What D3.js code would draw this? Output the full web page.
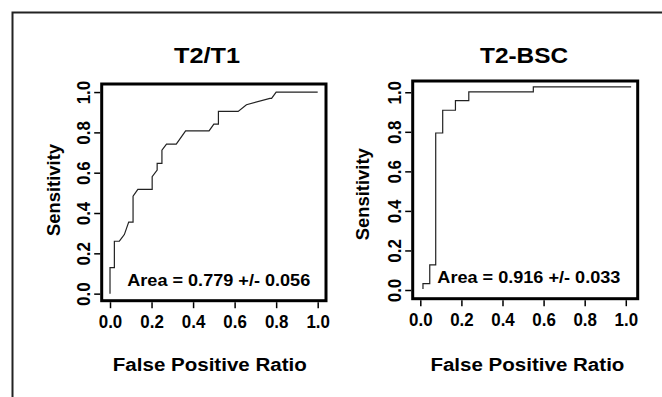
<!DOCTYPE html>
<html>
<head>
<meta charset="utf-8">
<script src="https://cdn.jsdelivr.net/npm/d3@7"></script>
<style>
  body { margin: 0; background: #fff; }
  svg { display: block; font-family: "Liberation Sans", Arial, sans-serif; font-weight: bold; }
</style>
</head>
<body>
<svg id="chart" width="662" height="397"></svg>
<script>
// ROC curve for T2/T1 (false positive ratio, sensitivity)
const t2t1Fpr = [0, 0, 0.021, 0.021, 0.045, 0.069, 0.09, 0.111, 0.111, 0.134, 0.203, 0.203, 0.227, 0.227, 0.25, 0.25, 0.272, 0.319, 0.364, 0.477, 0.5, 0.522, 0.522, 0.617, 0.657, 0.77, 0.778, 0.8, 1.0];
const t2t1Tpr = [0, 0.129, 0.129, 0.26, 0.26, 0.293, 0.355, 0.355, 0.484, 0.517, 0.517, 0.58, 0.613, 0.646, 0.646, 0.712, 0.742, 0.742, 0.807, 0.807, 0.841, 0.841, 0.904, 0.904, 0.937, 0.969, 0.969, 1.0, 1.0];

// ROC curve for T2-BSC
const bscFpr = [0.013, 0.013, 0.046, 0.046, 0.075, 0.075, 0.109, 0.109, 0.171, 0.171, 0.236, 0.236, 0.55, 0.55, 1.026];
const bscTpr = [0.005, 0.032, 0.032, 0.127, 0.127, 0.794, 0.794, 0.909, 0.909, 0.958, 0.958, 1.002, 1.002, 1.027, 1.027];

const titles = ["T2/T1", "T2-BSC"];
const areaLabels = ["Area = 0.779 +/- 0.056", "Area = 0.916 +/- 0.033"];
const tickValues = [0, 0.2, 0.4, 0.6, 0.8, 1.0];
const xTitle = "False Positive Ratio";
const yTitle = "Sensitivity";

const panels = [
  { fpr: t2t1Fpr, tpr: t2t1Tpr, title: titles[0], area: areaLabels[0],
    box: [101.7, 326, 84, 300.7], xDom: [-0.04, 1.04], yDom: [-0.035, 1.04],
    titleX: 207, titleLen: 66, xTitleX: 209.8, yTitleX: 60, yTitleY: 190 },
  { fpr: bscFpr, tpr: bscTpr, title: titles[1], area: areaLabels[1],
    box: [412.7, 637.7, 81, 298.7], xDom: [-0.037, 1.058], yDom: [-0.044, 1.057],
    titleX: 524, titleLen: 88, xTitleX: 527.4, yTitleX: 369, yTitleY: 194.2 }
];

const svg = d3.select("#chart");

// outer frame (top and left edges only visible)
svg.append("path")
  .attr("d", "M12.5,397V12.5H662")
  .attr("fill", "none")
  .attr("stroke", "#222")
  .attr("stroke-width", 2);

function styleTicks(sel) {
  sel.select(".domain").remove();
  sel.selectAll("line").attr("stroke", "#000").attr("stroke-width", 1.5);
  sel.selectAll("text")
    .attr("dy", 0)
    .attr("fill", "#000")
    .attr("font-size", 19)
    .attr("textLength", 23.5)
    .attr("lengthAdjust", "spacingAndGlyphs")
    .attr("font-family", "Liberation Sans, Arial, sans-serif")
    .attr("font-weight", "bold");
}

panels.forEach((p) => {
  const [x0, x1, y0, y1] = p.box;
  const x = d3.scaleLinear().domain(p.xDom).range([x0, x1]);
  const y = d3.scaleLinear().domain(p.yDom).range([y1, y0]);
  const g = svg.append("g");

  g.append("text")
    .attr("x", p.titleX)
    .attr("y", 63.3)
    .attr("text-anchor", "middle")
    .attr("font-size", 22.5)
    .attr("textLength", p.titleLen)
    .attr("lengthAdjust", "spacingAndGlyphs")
    .text(p.title);

  const line = d3.line().x((d) => x(d[0])).y((d) => y(d[1]));
  g.append("path")
    .attr("d", line(d3.zip(p.fpr, p.tpr)))
    .attr("fill", "none")
    .attr("stroke", "#222")
    .attr("stroke-width", 1.2);

  g.append("rect")
    .attr("x", x0).attr("y", y0)
    .attr("width", x1 - x0).attr("height", y1 - y0)
    .attr("fill", "none")
    .attr("stroke", "#000")
    .attr("stroke-width", 3);

  const xAxis = g.append("g")
    .attr("transform", `translate(0,${y1 + 1.5})`)
    .call(d3.axisBottom(x).tickValues(tickValues).tickSize(6).tickFormat(d3.format(".1f")))
    .call(styleTicks);
  xAxis.selectAll("text").attr("y", 26.3);

  const yAxis = g.append("g")
    .attr("transform", `translate(${x0 - 1.5},0)`)
    .call(d3.axisLeft(y).tickValues(tickValues).tickSize(6).tickFormat(d3.format(".1f")))
    .call(styleTicks);
  yAxis.selectAll("text")
    .attr("transform", "rotate(-90)")
    .attr("x", 0).attr("y", -10)
    .attr("text-anchor", "middle");

  g.append("text")
    .attr("x", x(0.083))
    .attr("y", y(0.037))
    .attr("font-size", 17)
    .attr("textLength", 183)
    .attr("lengthAdjust", "spacingAndGlyphs")
    .text(p.area);

  g.append("text")
    .attr("x", p.xTitleX)
    .attr("y", 371)
    .attr("text-anchor", "middle")
    .attr("font-size", 18.8)
    .attr("textLength", 194)
    .attr("lengthAdjust", "spacingAndGlyphs")
    .text(xTitle);

  g.append("text")
    .attr("transform", `translate(${p.yTitleX},${p.yTitleY}) rotate(-90)`)
    .attr("text-anchor", "middle")
    .attr("font-size", 18)
    .attr("textLength", 92)
    .attr("lengthAdjust", "spacingAndGlyphs")
    .text(yTitle);
});
</script>
</body>
</html>
